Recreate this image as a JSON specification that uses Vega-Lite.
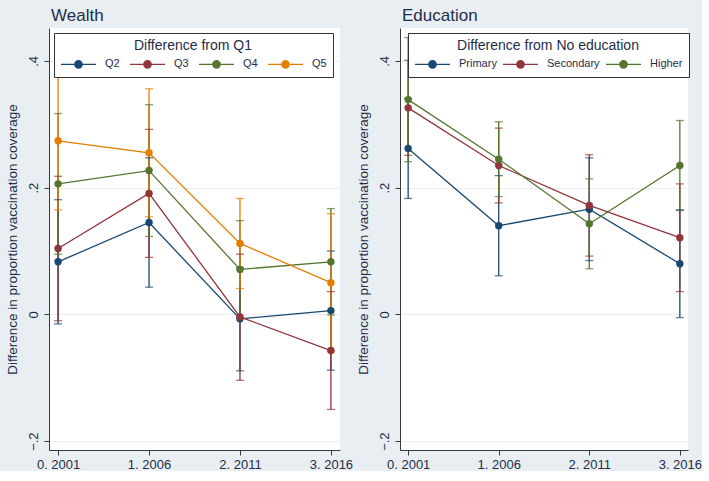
{
  "$schema": "https://vega.github.io/schema/vega-lite/v6.json",
  "background": "#e8eef2",
  "padding": {"left": 5, "top": 7, "right": 0, "bottom": 0},
  "spacing": 3,
  "config": {
    "font": "Liberation Sans",
    "view": {"stroke": null, "fill": "white"},
    "axis": {
      "domainColor": "#3a3a3a", "tickColor": "#3a3a3a", "tickSize": 5,
      "labelFontSize": 13, "labelColor": "#1f2d48",
      "titleFontSize": 13.5, "titleFontWeight": "normal", "titleColor": "#1f2d48",
      "gridColor": "#e8eef2", "gridWidth": 1
    },
    "legend": {
      "orient": "none", "direction": "horizontal", "fillColor": "white", "strokeColor": "#333333",
      "padding": 6, "titleAnchor": "middle", "titleFontSize": 14, "titleFontWeight": "normal", "titleLimit": 400,
      "titleColor": "#1f2d48", "titlePadding": 5, "labelFontSize": 11, "labelColor": "#1f2d48",
      "labelOffset": 33, "symbolSize": 100, "symbolStrokeWidth": 1.3, "labelLimit": 200,
      "symbolType": "M-1,0H1.76M3.24,0H6M3.24,0A0.74,0.74,0,1,1,1.76,0A0.74,0.74,0,1,1,3.24,0Z"
    },
    "title": {"fontSize": 17, "fontWeight": "normal", "color": "#1f2d48", "anchor": "start", "frame": "group", "offset": 3, "dx": 2}
  },
  "datasets": {
    "d": [
      {"panel": "W", "grp": "Q2", "t": 0, "est": 0.083, "lo": -0.015, "hi": 0.181},
      {"panel": "W", "grp": "Q2", "t": 1, "est": 0.145, "lo": 0.043, "hi": 0.247},
      {"panel": "W", "grp": "Q2", "t": 2, "est": -0.007, "lo": -0.089, "hi": 0.074},
      {"panel": "W", "grp": "Q2", "t": 3, "est": 0.006, "lo": -0.088, "hi": 0.100},
      {"panel": "W", "grp": "Q3", "t": 0, "est": 0.104, "lo": -0.010, "hi": 0.218},
      {"panel": "W", "grp": "Q3", "t": 1, "est": 0.191, "lo": 0.090, "hi": 0.292},
      {"panel": "W", "grp": "Q3", "t": 2, "est": -0.004, "lo": -0.104, "hi": 0.095},
      {"panel": "W", "grp": "Q3", "t": 3, "est": -0.057, "lo": -0.150, "hi": 0.036},
      {"panel": "W", "grp": "Q4", "t": 0, "est": 0.206, "lo": 0.095, "hi": 0.317},
      {"panel": "W", "grp": "Q4", "t": 1, "est": 0.227, "lo": 0.123, "hi": 0.331},
      {"panel": "W", "grp": "Q4", "t": 2, "est": 0.071, "lo": -0.006, "hi": 0.148},
      {"panel": "W", "grp": "Q4", "t": 3, "est": 0.083, "lo": -0.001, "hi": 0.167},
      {"panel": "W", "grp": "Q5", "t": 0, "est": 0.274, "lo": 0.165, "hi": 0.383},
      {"panel": "W", "grp": "Q5", "t": 1, "est": 0.255, "lo": 0.154, "hi": 0.356},
      {"panel": "W", "grp": "Q5", "t": 2, "est": 0.112, "lo": 0.041, "hi": 0.183},
      {"panel": "W", "grp": "Q5", "t": 3, "est": 0.050, "lo": -0.059, "hi": 0.159},
      {"panel": "E", "grp": "Primary", "t": 0, "est": 0.262, "lo": 0.183, "hi": 0.341},
      {"panel": "E", "grp": "Primary", "t": 1, "est": 0.140, "lo": 0.061, "hi": 0.219},
      {"panel": "E", "grp": "Primary", "t": 2, "est": 0.166, "lo": 0.085, "hi": 0.247},
      {"panel": "E", "grp": "Primary", "t": 3, "est": 0.080, "lo": -0.005, "hi": 0.165},
      {"panel": "E", "grp": "Secondary", "t": 0, "est": 0.326, "lo": 0.251, "hi": 0.401},
      {"panel": "E", "grp": "Secondary", "t": 1, "est": 0.235, "lo": 0.176, "hi": 0.294},
      {"panel": "E", "grp": "Secondary", "t": 2, "est": 0.172, "lo": 0.092, "hi": 0.252},
      {"panel": "E", "grp": "Secondary", "t": 3, "est": 0.121, "lo": 0.036, "hi": 0.206},
      {"panel": "E", "grp": "Higher", "t": 0, "est": 0.339, "lo": 0.241, "hi": 0.437},
      {"panel": "E", "grp": "Higher", "t": 1, "est": 0.245, "lo": 0.186, "hi": 0.304},
      {"panel": "E", "grp": "Higher", "t": 2, "est": 0.143, "lo": 0.072, "hi": 0.214},
      {"panel": "E", "grp": "Higher", "t": 3, "est": 0.235, "lo": 0.164, "hi": 0.306}
    ]
  },
  "resolve": {"scale": {"color": "independent", "x": "independent", "y": "independent"}, "legend": {"color": "independent"}},
  "hconcat": [
    {
      "width": 291, "height": 422,
      "title": {"text": "Wealth"},
      "data": {"name": "d"},
      "transform": [{"filter": "datum.panel == 'W'"}],
      "encoding": {
        "x": {"field": "t", "type": "quantitative",
          "scale": {"domain": [-0.1, 3.1], "nice": false, "zero": false},
          "axis": {"title": null, "values": [0, 1, 2, 3], "grid": false, "labelAngle": 0, "labelPadding": 3,
            "labelExpr": "['0. 2001','1. 2006','2. 2011','3. 2016'][datum.value]"}},
        "color": {"field": "grp", "type": "nominal",
          "scale": {"domain": ["Q2", "Q3", "Q4", "Q5"], "range": ["#1a476f", "#90353b", "#55752f", "#e37e00"]},
          "legend": {"title": "Difference from Q1", "legendX": 5, "legendY": 5, "columns": 4, "columnPadding": 7,
            "encode": {"symbols": {"update": {
              "fill": {"signal": "datum.value == 'Q2' ? '#1a476f' : datum.value == 'Q3' ? '#90353b' : datum.value == 'Q4' ? '#55752f' : '#e37e00'"},
              "stroke": {"signal": "datum.value == 'Q2' ? '#1a476f' : datum.value == 'Q3' ? '#90353b' : datum.value == 'Q4' ? '#55752f' : '#e37e00'"},
              "opacity": {"value": 1}, "strokeWidth": {"value": 1.3}}}}}}
      },
      "layer": [
        {"mark": {"type": "rule", "strokeWidth": 1.3},
          "encoding": {
            "y": {"field": "lo", "type": "quantitative",
              "scale": {"domain": [-0.214, 0.452], "nice": false, "zero": false},
              "axis": {"title": "Difference in proportion vaccination coverage", "values": [-0.2, 0, 0.2, 0.4], "grid": true,
                "labelExpr": "datum.value == 0 ? '0' : replace(format(datum.value, '.1f'), '0.', '.')",
                "labelAngle": -90, "labelAlign": "center", "labelBaseline": "bottom", "labelPadding": 4, "titlePadding": 8}},
            "y2": {"field": "hi"}}},
        {"mark": {"type": "tick", "orient": "horizontal", "size": 8, "thickness": 1.3},
          "encoding": {"y": {"field": "lo", "type": "quantitative", "title": "Difference in proportion vaccination coverage"}}},
        {"mark": {"type": "tick", "orient": "horizontal", "size": 8, "thickness": 1.3},
          "encoding": {"y": {"field": "hi", "type": "quantitative", "title": "Difference in proportion vaccination coverage"}}},
        {"mark": {"type": "line", "strokeWidth": 1.3},
          "encoding": {"y": {"field": "est", "type": "quantitative", "title": "Difference in proportion vaccination coverage"}}},
        {"mark": {"type": "point", "filled": true, "size": 55, "opacity": 1},
          "encoding": {"y": {"field": "est", "type": "quantitative", "title": "Difference in proportion vaccination coverage"}}}
      ]
    },
    {
      "width": 288, "height": 422,
      "title": {"text": "Education"},
      "data": {"name": "d"},
      "transform": [{"filter": "datum.panel == 'E'"}],
      "encoding": {
        "x": {"field": "t", "type": "quantitative",
          "scale": {"domain": [-0.09, 3.09], "nice": false, "zero": false},
          "axis": {"title": null, "values": [0, 1, 2, 3], "grid": false, "labelAngle": 0, "labelPadding": 3,
            "labelExpr": "['0. 2001','1. 2006','2. 2011','3. 2016'][datum.value]"}},
        "color": {"field": "grp", "type": "nominal",
          "scale": {"domain": ["Primary", "Secondary", "Higher"], "range": ["#1a476f", "#90353b", "#55752f"]},
          "legend": {"title": "Difference from No education", "legendX": 8, "legendY": 5, "columns": 3, "columnPadding": 3,
            "encode": {"symbols": {"update": {
              "fill": {"signal": "datum.value == 'Primary' ? '#1a476f' : datum.value == 'Secondary' ? '#90353b' : '#55752f'"},
              "stroke": {"signal": "datum.value == 'Primary' ? '#1a476f' : datum.value == 'Secondary' ? '#90353b' : '#55752f'"},
              "opacity": {"value": 1}, "strokeWidth": {"value": 1.3}}}}}}
      },
      "layer": [
        {"mark": {"type": "rule", "strokeWidth": 1.3},
          "encoding": {
            "y": {"field": "lo", "type": "quantitative",
              "scale": {"domain": [-0.214, 0.452], "nice": false, "zero": false},
              "axis": {"title": "Difference in proportion vaccination coverage", "values": [-0.2, 0, 0.2, 0.4], "grid": true,
                "labelExpr": "datum.value == 0 ? '0' : replace(format(datum.value, '.1f'), '0.', '.')",
                "labelAngle": -90, "labelAlign": "center", "labelBaseline": "bottom", "labelPadding": 4, "titlePadding": 8}},
            "y2": {"field": "hi"}}},
        {"mark": {"type": "tick", "orient": "horizontal", "size": 8, "thickness": 1.3},
          "encoding": {"y": {"field": "lo", "type": "quantitative", "title": "Difference in proportion vaccination coverage"}}},
        {"mark": {"type": "tick", "orient": "horizontal", "size": 8, "thickness": 1.3},
          "encoding": {"y": {"field": "hi", "type": "quantitative", "title": "Difference in proportion vaccination coverage"}}},
        {"mark": {"type": "line", "strokeWidth": 1.3},
          "encoding": {"y": {"field": "est", "type": "quantitative", "title": "Difference in proportion vaccination coverage"}}},
        {"mark": {"type": "point", "filled": true, "size": 55, "opacity": 1},
          "encoding": {"y": {"field": "est", "type": "quantitative", "title": "Difference in proportion vaccination coverage"}}}
      ]
    }
  ]
}
